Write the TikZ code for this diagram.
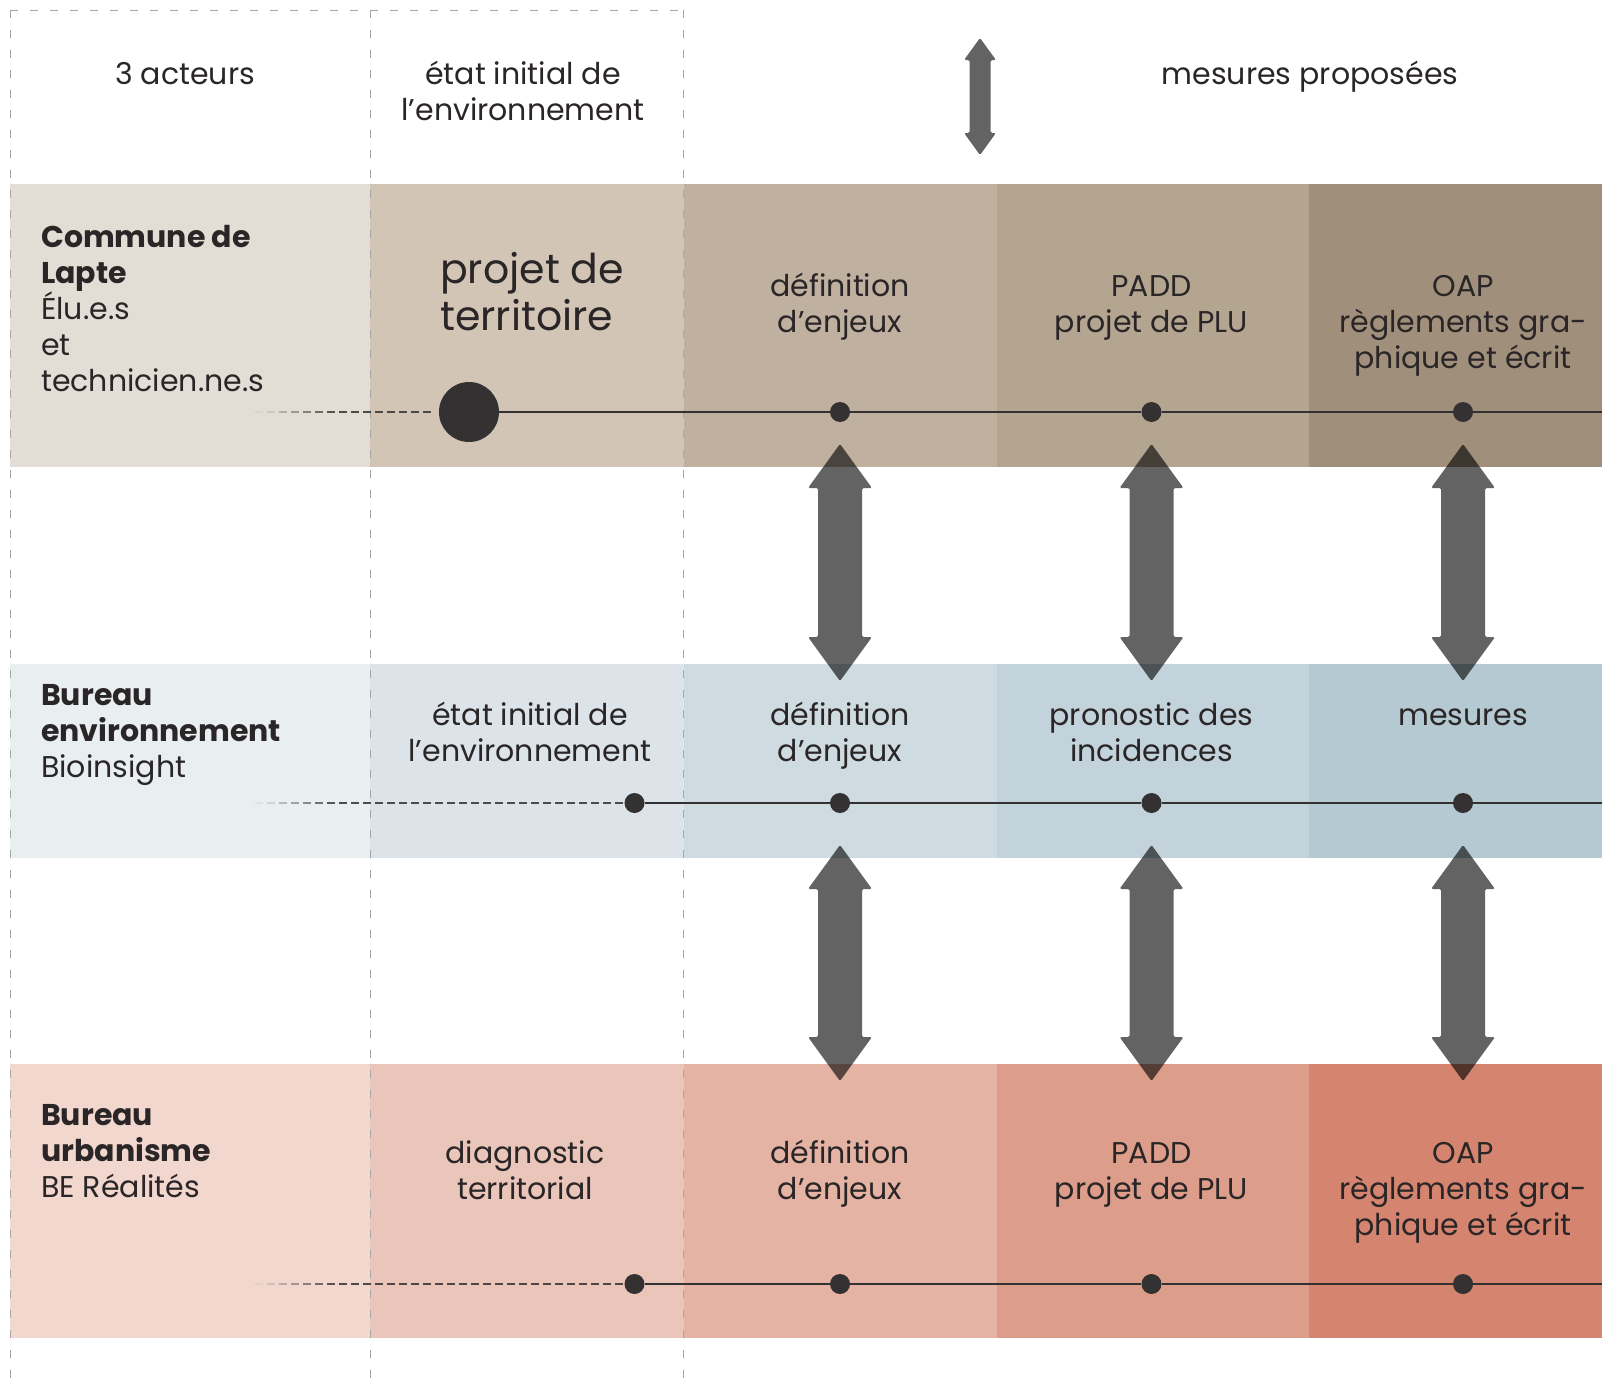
\documentclass[tikz,border=0pt]{standalone}
\usepackage{fontspec}
\setmainfont{Poppins}
\definecolor{txt}{HTML}{2A2526}
\definecolor{dotc}{HTML}{333132}
\definecolor{aa}{HTML}{E3DDD5}\definecolor{ab}{HTML}{D2C5B6}\definecolor{ac}{HTML}{BFB0A0}\definecolor{ad}{HTML}{B3A590}\definecolor{ae}{HTML}{A08F7A}
\definecolor{ba}{HTML}{E9EEF0}\definecolor{bb}{HTML}{DCE4E9}\definecolor{bc}{HTML}{CEDCE1}\definecolor{bd}{HTML}{C3D3DB}\definecolor{be}{HTML}{B4C9D1}
\definecolor{ca}{HTML}{F1D7CD}\definecolor{cb}{HTML}{E9C5BA}\definecolor{cc}{HTML}{E4B3A3}\definecolor{cd}{HTML}{DC9D8A}\definecolor{ce}{HTML}{D4846F}
\newcommand{\dblarrow}[6]{%
 \fill[arrowfill] (#1,#2) -- (#1+#5,#2+#6) -- (#1+#4,#2+#6) -- (#1+#4,#3-#6) -- (#1+#5,#3-#6) -- (#1,#3) -- (#1-#5,#3-#6) -- (#1-#4,#3-#6) -- (#1-#4,#2+#6) -- (#1-#5,#2+#6) -- cycle;}
\newcommand{\fadedash}[3]{%
 \foreach \xx in {#2}{\pgfmathsetmacro\op{min(0.85,max(0.06,(\xx-255)/90))}%
  \draw[tldash, draw opacity=\op] (\xx,#1) -- ({min(\xx+8,#3)},#1);}}
\begin{document}
\begin{tikzpicture}[x=1pt,y=-1pt,
  lbl/.style={font=\fontsize{30}{36}\selectfont, text=txt, align=center, anchor=base, inner sep=0pt},
  big/.style={font=\fontsize{41}{47}\selectfont, text=txt, align=left, anchor=base west, inner sep=0pt},
  actor/.style={font=\fontsize{30}{36}\selectfont, text=txt, align=left, anchor=base west, inner sep=0pt},
  dot/.style={circle, fill=dotc, minimum size=20pt, inner sep=0pt},
  bigdot/.style={circle, fill=dotc, minimum size=60pt, inner sep=0pt},
  tl/.style={draw=dotc, line width=1.2pt},
  tldash/.style={draw=dotc, line width=1.4pt},
  guide/.style={draw=black!35, line width=1pt, dash pattern=on 8pt off 12pt},
  arrowfill/.style={fill=black, fill opacity=0.61, rounded corners=1.5pt}]
\useasboundingbox (0,0) rectangle (1602,1392);
% bands
\fill[aa] (10,184) rectangle (370,467);
\fill[ab] (370,184) rectangle (683.5,467);
\fill[ac] (683.5,184) rectangle (997,467);
\fill[ad] (997,184) rectangle (1309,467);
\fill[ae] (1309,184) rectangle (1602,467);
\fill[ba] (10,664) rectangle (370,858);
\fill[bb] (370,664) rectangle (683.5,858);
\fill[bc] (683.5,664) rectangle (997,858);
\fill[bd] (997,664) rectangle (1309,858);
\fill[be] (1309,664) rectangle (1602,858);
\fill[ca] (10,1064) rectangle (370,1338);
\fill[cb] (370,1064) rectangle (683.5,1338);
\fill[cc] (683.5,1064) rectangle (997,1338);
\fill[cd] (997,1064) rectangle (1309,1338);
\fill[ce] (1309,1064) rectangle (1602,1338);
% guides
\draw[guide] (10,10) -- (683.5,10);
\draw[guide] (10,10) -- (10,1382);
\draw[guide] (370,10) -- (370,1382);
\draw[guide] (683.5,10) -- (683.5,1382);
% headers
\node[lbl] (h1) at (185,84) {3 acteurs};
\node[lbl] (h2) at (523,120) {état initial de\\l’environnement};
\node[lbl] (h3) at (1310,84) {mesures proposées};
\dblarrow{980}{38}{155}{10.5}{16}{22}
% actors
\node[actor] (act1) at (41,391) {\textbf{Commune de}\\\textbf{Lapte}\\Élu.e.s\\et\\technicien.ne.s};
\node[actor] (act2) at (41,777) {\textbf{Bureau}\\\textbf{environnement}\\Bioinsight};
\node[actor] (act3) at (41,1197) {\textbf{Bureau}\\\textbf{urbanisme}\\BE Réalités};
% band 1 texts
\node[big] (p1) at (440,330) {projet de\\territoire};
\node[lbl] (t1a) at (840,332) {définition\\d’enjeux};
\node[lbl] (t1b) at (1151.5,332) {PADD\\projet de PLU};
\node[lbl] (t1c) at (1463,368) {OAP\\règlements gra-\\phique et écrit};
% band 2 texts
\node[lbl] (t2o) at (530,761) {état initial de\\l’environnement};
\node[lbl] (t2a) at (840,761) {définition\\d’enjeux};
\node[lbl] (t2b) at (1151.5,761) {pronostic des\\incidences};
\node[lbl] (t2c) at (1463,725) {mesures};
% band 3 texts
\node[lbl] (t3o) at (525,1199) {diagnostic\\territorial};
\node[lbl] (t3a) at (840,1199) {définition\\d’enjeux};
\node[lbl] (t3b) at (1151.5,1199) {PADD\\projet de PLU};
\node[lbl] (t3c) at (1463,1235) {OAP\\règlements gra-\\phique et écrit};
% timelines
\fadedash{412}{255,267,...,431}{439}
\fadedash{803}{255,267,...,615}{624}
\fadedash{1284}{255,267,...,615}{624}
\node[bigdot] (d10) at (469,412) {};
\node[dot] (d11) at (840,412) {};
\node[dot] (d12) at (1151.5,412) {};
\node[dot] (d13) at (1463,412) {};
\coordinate (e1) at (1602,412);
\node[dot] (d20) at (634.5,803) {};
\node[dot] (d21) at (840,803) {};
\node[dot] (d22) at (1151.5,803) {};
\node[dot] (d23) at (1463,803) {};
\coordinate (e2) at (1602,803);
\node[dot] (d30) at (634.5,1284) {};
\node[dot] (d31) at (840,1284) {};
\node[dot] (d32) at (1151.5,1284) {};
\node[dot] (d33) at (1463,1284) {};
\coordinate (e3) at (1602,1284);
\draw[tl] (d10) -- (d11) -- (d12) -- (d13) -- (e1);
\draw[tl] (d20) -- (d21) -- (d22) -- (d23) -- (e2);
\draw[tl] (d30) -- (d31) -- (d32) -- (d33) -- (e3);
% double arrows between bands
\foreach \ax in {840,1151.5,1463}{
  \dblarrow{\ax}{444}{681}{22}{32}{44}
  \dblarrow{\ax}{845}{1081}{22}{32}{44}
}
\end{tikzpicture}
\end{document}
